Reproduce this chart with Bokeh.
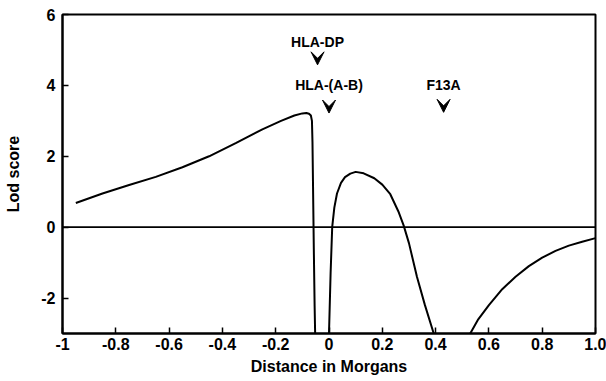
from bokeh.plotting import figure
from bokeh.models import Range1d, FixedTicker, Arrow, VeeHead, Span, ColumnDataSource
from bokeh.embed import file_html
from bokeh.resources import INLINE
from bokeh.core.properties import value

# ---- data ----
seg1_x = [-0.95, -0.85, -0.75, -0.65, -0.55, -0.45, -0.35, -0.25, -0.18, -0.13, -0.10,
          -0.085, -0.075, -0.068, -0.064, -0.062, -0.06, -0.057, -0.054, -0.052]
seg1_y = [0.68, 0.95, 1.19, 1.42, 1.69, 2.00, 2.37, 2.76, 3.00, 3.15, 3.21,
          3.22, 3.20, 3.15, 3.00, 2.40, 1.20, -0.60, -2.20, -3.00]

seg2_x = [0.0, 0.006, 0.012, 0.02, 0.03, 0.045, 0.06, 0.08, 0.10, 0.13, 0.17, 0.20,
          0.23, 0.26, 0.28, 0.30, 0.33, 0.36, 0.393]
seg2_y = [-3.0, -1.3, 0.0, 0.55, 0.95, 1.25, 1.41, 1.51, 1.56, 1.52, 1.38, 1.20,
          0.93, 0.45, 0.05, -0.45, -1.40, -2.20, -3.0]

seg3_x = [0.53, 0.56, 0.60, 0.65, 0.70, 0.75, 0.80, 0.85, 0.90, 0.95, 1.00]
seg3_y = [-3.0, -2.6, -2.2, -1.75, -1.40, -1.10, -0.86, -0.67, -0.52, -0.41, -0.31]

loci = ["HLA-DP", "HLA-(A-B)", "F13A"]
loci_x = [-0.043, 0.0, 0.43]

x_ticks = [-1.0, -0.8, -0.6, -0.4, -0.2, 0.0, 0.2, 0.4, 0.6, 0.8, 1.0]
x_tick_labels = ["-1", "-0.8", "-0.6", "-0.4", "-0.2", "0", "0.2", "0.4", "0.6", "0.8", "1.0"]
y_ticks = [-2, 0, 2, 4, 6]
y_tick_labels = ["-2", "0", "2", "4", "6"]

FONT = "Liberation Sans"

p = figure(width=606, height=381, x_range=Range1d(-1, 1), y_range=Range1d(-3, 6),
           output_backend="svg", toolbar_location=None,
           min_border_left=62, min_border_right=11, min_border_top=14, min_border_bottom=48)

p.xgrid.visible = False
p.ygrid.visible = False
p.outline_line_color = "black"
p.outline_line_width = 2
p.background_fill_color = "white"
p.border_fill_color = "white"

p.xaxis.ticker = FixedTicker(ticks=x_ticks)
p.xaxis.major_label_overrides = {t: l for t, l in zip(x_ticks, x_tick_labels)}
p.yaxis.ticker = FixedTicker(ticks=y_ticks)
p.yaxis.major_label_overrides = {t: l for t, l in zip(y_ticks, y_tick_labels)}

for ax in (p.xaxis[0], p.yaxis[0]):
    ax.axis_line_width = 2
    ax.axis_line_color = "black"
    ax.major_tick_in = 6
    ax.major_tick_out = 0
    ax.major_tick_line_width = 1.5
    ax.minor_tick_line_color = None
    ax.major_label_text_font = FONT
    ax.major_label_text_font_style = "bold"
    ax.major_label_text_font_size = "16px"
    ax.major_label_text_color = "black"
    ax.axis_label_text_font = FONT
    ax.axis_label_text_font_style = "bold"
    ax.axis_label_text_font_size = "16px"
    ax.axis_label_text_color = "black"

p.xaxis.major_label_standoff = 4
p.xaxis.axis_label_standoff = 5
p.yaxis.major_label_standoff = 7
p.yaxis.axis_label_standoff = 16

p.xaxis.axis_label = "Distance in Morgans"
p.yaxis.axis_label = "Lod score"

p.add_layout(Span(location=0, dimension="width", line_color="black", line_width=1.6))

for xs, ys in ((seg1_x, seg1_y), (seg2_x, seg2_y), (seg3_x, seg3_y)):
    p.line(xs, ys, line_color="black", line_width=2)

# locus markers
label_y = [5.22, 4.0, 4.0]
tip_y = [4.58, 3.22, 3.24]
for name, lx, ly, ty in zip(loci, loci_x, label_y, tip_y):
    p.add_layout(Arrow(end=VeeHead(size=13, fill_color="black", line_color="black", line_width=1),
                       x_start=lx, y_start=ty + 0.3, x_end=lx, y_end=ty,
                       line_color=None))

src = ColumnDataSource(dict(x=loci_x, y=label_y, t=loci))
p.text(x="x", y="y", text="t", source=src, text_font=value(FONT), text_font_style="bold",
       text_font_size="14px", text_align="center", text_baseline="middle", text_color="black")

open("out.html", "w").write(file_html(p, INLINE))
